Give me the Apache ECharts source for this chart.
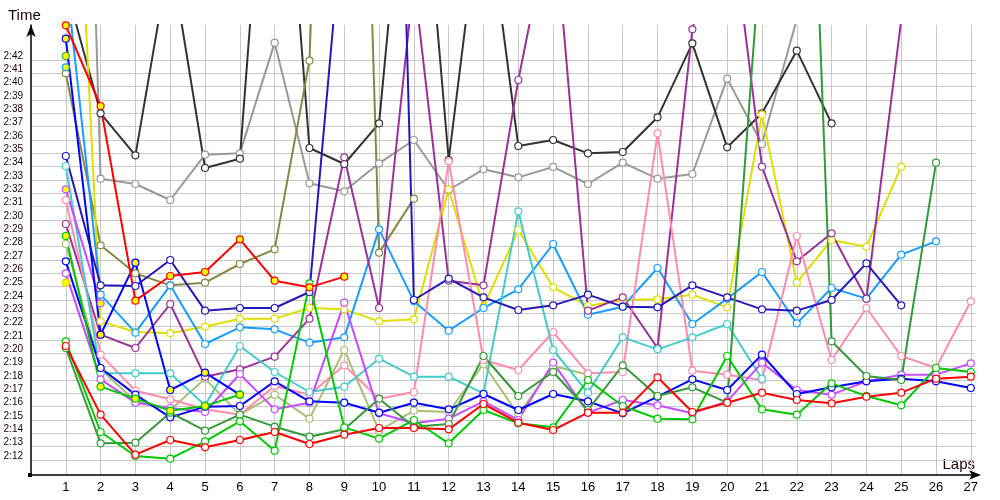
<!DOCTYPE html>
<html><head><meta charset="utf-8">
<script src="https://cdn.jsdelivr.net/npm/echarts@6/dist/echarts.min.js"></script>
<style>html,body{margin:0;padding:0;background:#fff}#c{width:1000px;height:500px}</style>
</head><body><div id="c"></div>
<script>
// Lap numbers and y tick values (lap time in seconds)
const laps = [1,2,3,4,5,6,7,8,9,10,11,12,13,14,15,16,17,18,19,20,21,22,23,24,25,26,27];
const yTicks = [132,133,134,135,136,137,138,139,140,141,142,143,144,145,146,147,148,149,150,151,152,153,154,155,156,157,158,159,160,161,162];

// Lap times in seconds, one value per lap starting at lap 1
const red1 = [140.55,135.4,132.4,133.5,132.95,133.5,134.1,133.2,133.9,134.4,134.4,134.3,136.2,134.8,134.25,135.55,135.55,138.2,135.6,136.3,137.05,136.5,136.25,136.75,137.05,138.1,138.25];
const red2 = [164.6,158.55,143.95,145.8,146.1,148.55,145.45,144.95,145.75];
const green1 = [140.9,134.1,132.3,132.1,133.4,134.9,132.7,145.25,134.45,133.6,135.0,133.25,135.75,134.75,134.45,138.0,136.05,135.1,135.05,139.8,135.8,135.4,137.75,136.8,136.1,138.9,138.6];
const green2 = [148.8,137.5,136.6,135.7,136.05,136.9];
const green3 = [162.3];
const darkGreen = [140.4,133.25,133.3,135.55,134.2,135.4,134.5,133.75,134.3,136.6,134.5,134.7,139.8,136.8,138.6,135.75,139.1,136.8,137.45,136.3,171.5,210,140.9,138.3,138.0,154.3];
const blue1 = [146.9,138.9,136.9,135.2,136.0,136.05,137.9,136.4,136.3,135.55,136.3,135.8,136.95,135.75,136.95,136.4,135.5,136.75,138.05,137.25,139.9,136.95,137.45,137.9,138.1,137.9,137.4];
const blue2 = [163.6,141.4,146.8,137.25,138.55,136.9];
const navy = [154.8,145.1,145.05,147.0,143.2,143.4,143.4,144.6,174,240,144.0,145.6,144.2,143.25,143.6,144.4,143.5,143.45,145.1,144.2,143.3,143.2,144.0,146.75,143.6];
const lightBlue1 = [168.4,144.4,141.55,145.1,140.7,141.95,141.8,140.8,141.2,149.3,143.9,141.7,143.4,144.8,148.2,142.9,143.5,146.4,142.2,144.1,146.1,142.25,144.9,144.1,147.4,148.4];
const lightBlue2 = [161.45];
const cyan = [154.05,138.5,138.5,138.5,136.1,140.55,138.6,137.1,137.5,139.6,138.25,138.25,137.0,150.65,140.25,137.05,141.2,140.3,141.2,142.2,138.1];
const pink = [151.5,139.9,137.2,136.55,135.8,135.4,137.55,136.9,139.1,136.6,137.1,154.4,139.5,138.75,141.6,138.5,138.6,156.5,138.7,138.4,138.0,148.8,139.5,143.4,139.8,138.9,143.9];
const violet1 = [146.0,138.05,136.3,135.9,135.6,138.45,135.8,136.3,143.8,135.5,134.75,135.1,136.4,135.0,139.3,135.55,136.5,136.1,135.5,136.4,139.3,137.25,136.9,137.9,138.4,138.4,139.25];
const violet2 = [152.3,143.75];
const purple = [149.7,141.4,140.4,143.7,138.25,138.8,139.75,142.6,154.7,143.4,168,145.45,145.1,160.5,173.5,143.2,144.2,140.4,164.3,175,154.0,146.9,149.0,144.1,165.0];
const olive = [161.0,148.1,146.0,145.1,145.3,146.7,147.8,161.95,235,147.55,151.6];
const khaki = [148.2,138.8,136.4,135.75,138.1,135.4,136.9,135.1,140.25,134.2,135.7,135.6,139.2,135.4,139.05,138.4];
const gray = [240,153.1,152.7,151.5,154.9,155.0,163.3,152.75,152.15,154.25,156.0,152.25,153.8,153.2,153.98,152.7,154.3,153.1,153.45,160.6,155.7,165.05];
const black = [167.5,158.0,154.85,170,153.9,154.6,189,155.4,154.2,157.25,185,154.5,175.5,155.55,156.0,155.0,155.1,157.7,163.25,155.45,158.0,162.7,157.25];
const yellow1 = [195,142.4,141.6,141.5,142.0,142.6,142.6,143.4,143.3,142.4,142.55,152.3,143.5,149.25,144.95,143.55,144.0,144.05,144.4,143.45,157.9,145.3,148.5,148.0,154.0];
const yellow2 = [145.3];

const W = '#ffffff', Yf = '#ffff00';
const defs = [
  ['gray', gray, '#999999', W],
  ['black', black, '#333333', W],
  ['olive', olive, '#878745', W],
  ['khaki', khaki, '#a9bf78', W],
  ['yellow1', yellow1, '#dede00', W],
  ['yellow2', yellow2, '#dede00', Yf],
  ['lightBlue1', lightBlue1, '#1a9cff', W],
  ['lightBlue2', lightBlue2, '#1a9cff', Yf],
  ['purple', purple, '#993399', W],
  ['pink', pink, '#ff8caf', W],
  ['cyan', cyan, '#45caca', W],
  ['navy', navy, '#2419b8', W],
  ['violet1', violet1, '#c64cff', W],
  ['violet2', violet2, '#c64cff', Yf],
  ['blue2', blue2, '#0000ff', Yf],
  ['blue1', blue1, '#0000ff', W],
  ['darkGreen', darkGreen, '#33993a', W],
  ['green3', green3, '#33aa33', Yf],
  ['green2', green2, '#00c800', Yf],
  ['green1', green1, '#00c800', W],
  ['red2', red2, '#ff0000', Yf],
  ['red1', red1, '#ff0000', W]
];

function fmt(v){ const s = Math.round(v - 120); return '2:' + (s < 10 ? '0' : '') + s; }

const series = defs.map(([name, vals, color, fill]) => ({
  name, type: 'line', clip: true,
  data: vals.map((v, i) => [laps[i], v]),
  symbol: 'circle', symbolSize: 7, showSymbol: true,
  lineStyle: { color, width: 2 },
  itemStyle: { color: fill, borderColor: color, borderWidth: 1.2 },
  emphasis: { disabled: true },
  z: 2
}));

const chart = echarts.init(document.getElementById('c'), null, { renderer: 'canvas' });
chart.setOption({
  animation: false,
  backgroundColor: '#ffffff',
  grid: { left: 31, right: 25, top: 25, bottom: 25, containLabel: false },
  xAxis: {
    type: 'value', min: 0, max: 27.12,
    axisLine: { show: true, lineStyle: { color: '#000', width: 1.5 }, symbol: ['none', 'arrow'], symbolSize: [7, 12], symbolOffset: [0, 6] },
    axisTick: { show: false, customValues: laps },
    axisLabel: { customValues: laps, color: '#000', fontSize: 13, fontFamily: 'Liberation Sans', margin: 6 },
    splitLine: { show: true, lineStyle: { color: '#c8c8c8', width: 1 } }
  },
  yAxis: {
    type: 'value', min: 130.875, max: 164.625,
    axisLine: { show: true, lineStyle: { color: '#000', width: 1.5 }, symbol: ['none', 'arrow'], symbolSize: [7, 12], symbolOffset: [0, 0] },
    axisTick: { show: false, customValues: yTicks },
    axisLabel: { customValues: yTicks, formatter: fmt, color: '#220000', fontSize: 10, fontFamily: 'Liberation Sans', margin: 8, verticalAlign: 'bottom', lineHeight: 8 },
    splitLine: { show: true, lineStyle: { color: '#c8c8c8', width: 1 } }
  },
  graphic: [
    { type: 'text', left: 8, top: 8, style: { text: 'Time', font: '15px "Liberation Sans"', fill: '#220000' } },
    { type: 'text', right: 25, top: 457, style: { text: 'Laps', font: '15px "Liberation Sans"', fill: '#220000' } },
    { type: 'rect', left: 28, top: 473, shape: { width: 4, height: 4 }, style: { fill: '#000' } }
  ],
  series
});
</script></body></html>
